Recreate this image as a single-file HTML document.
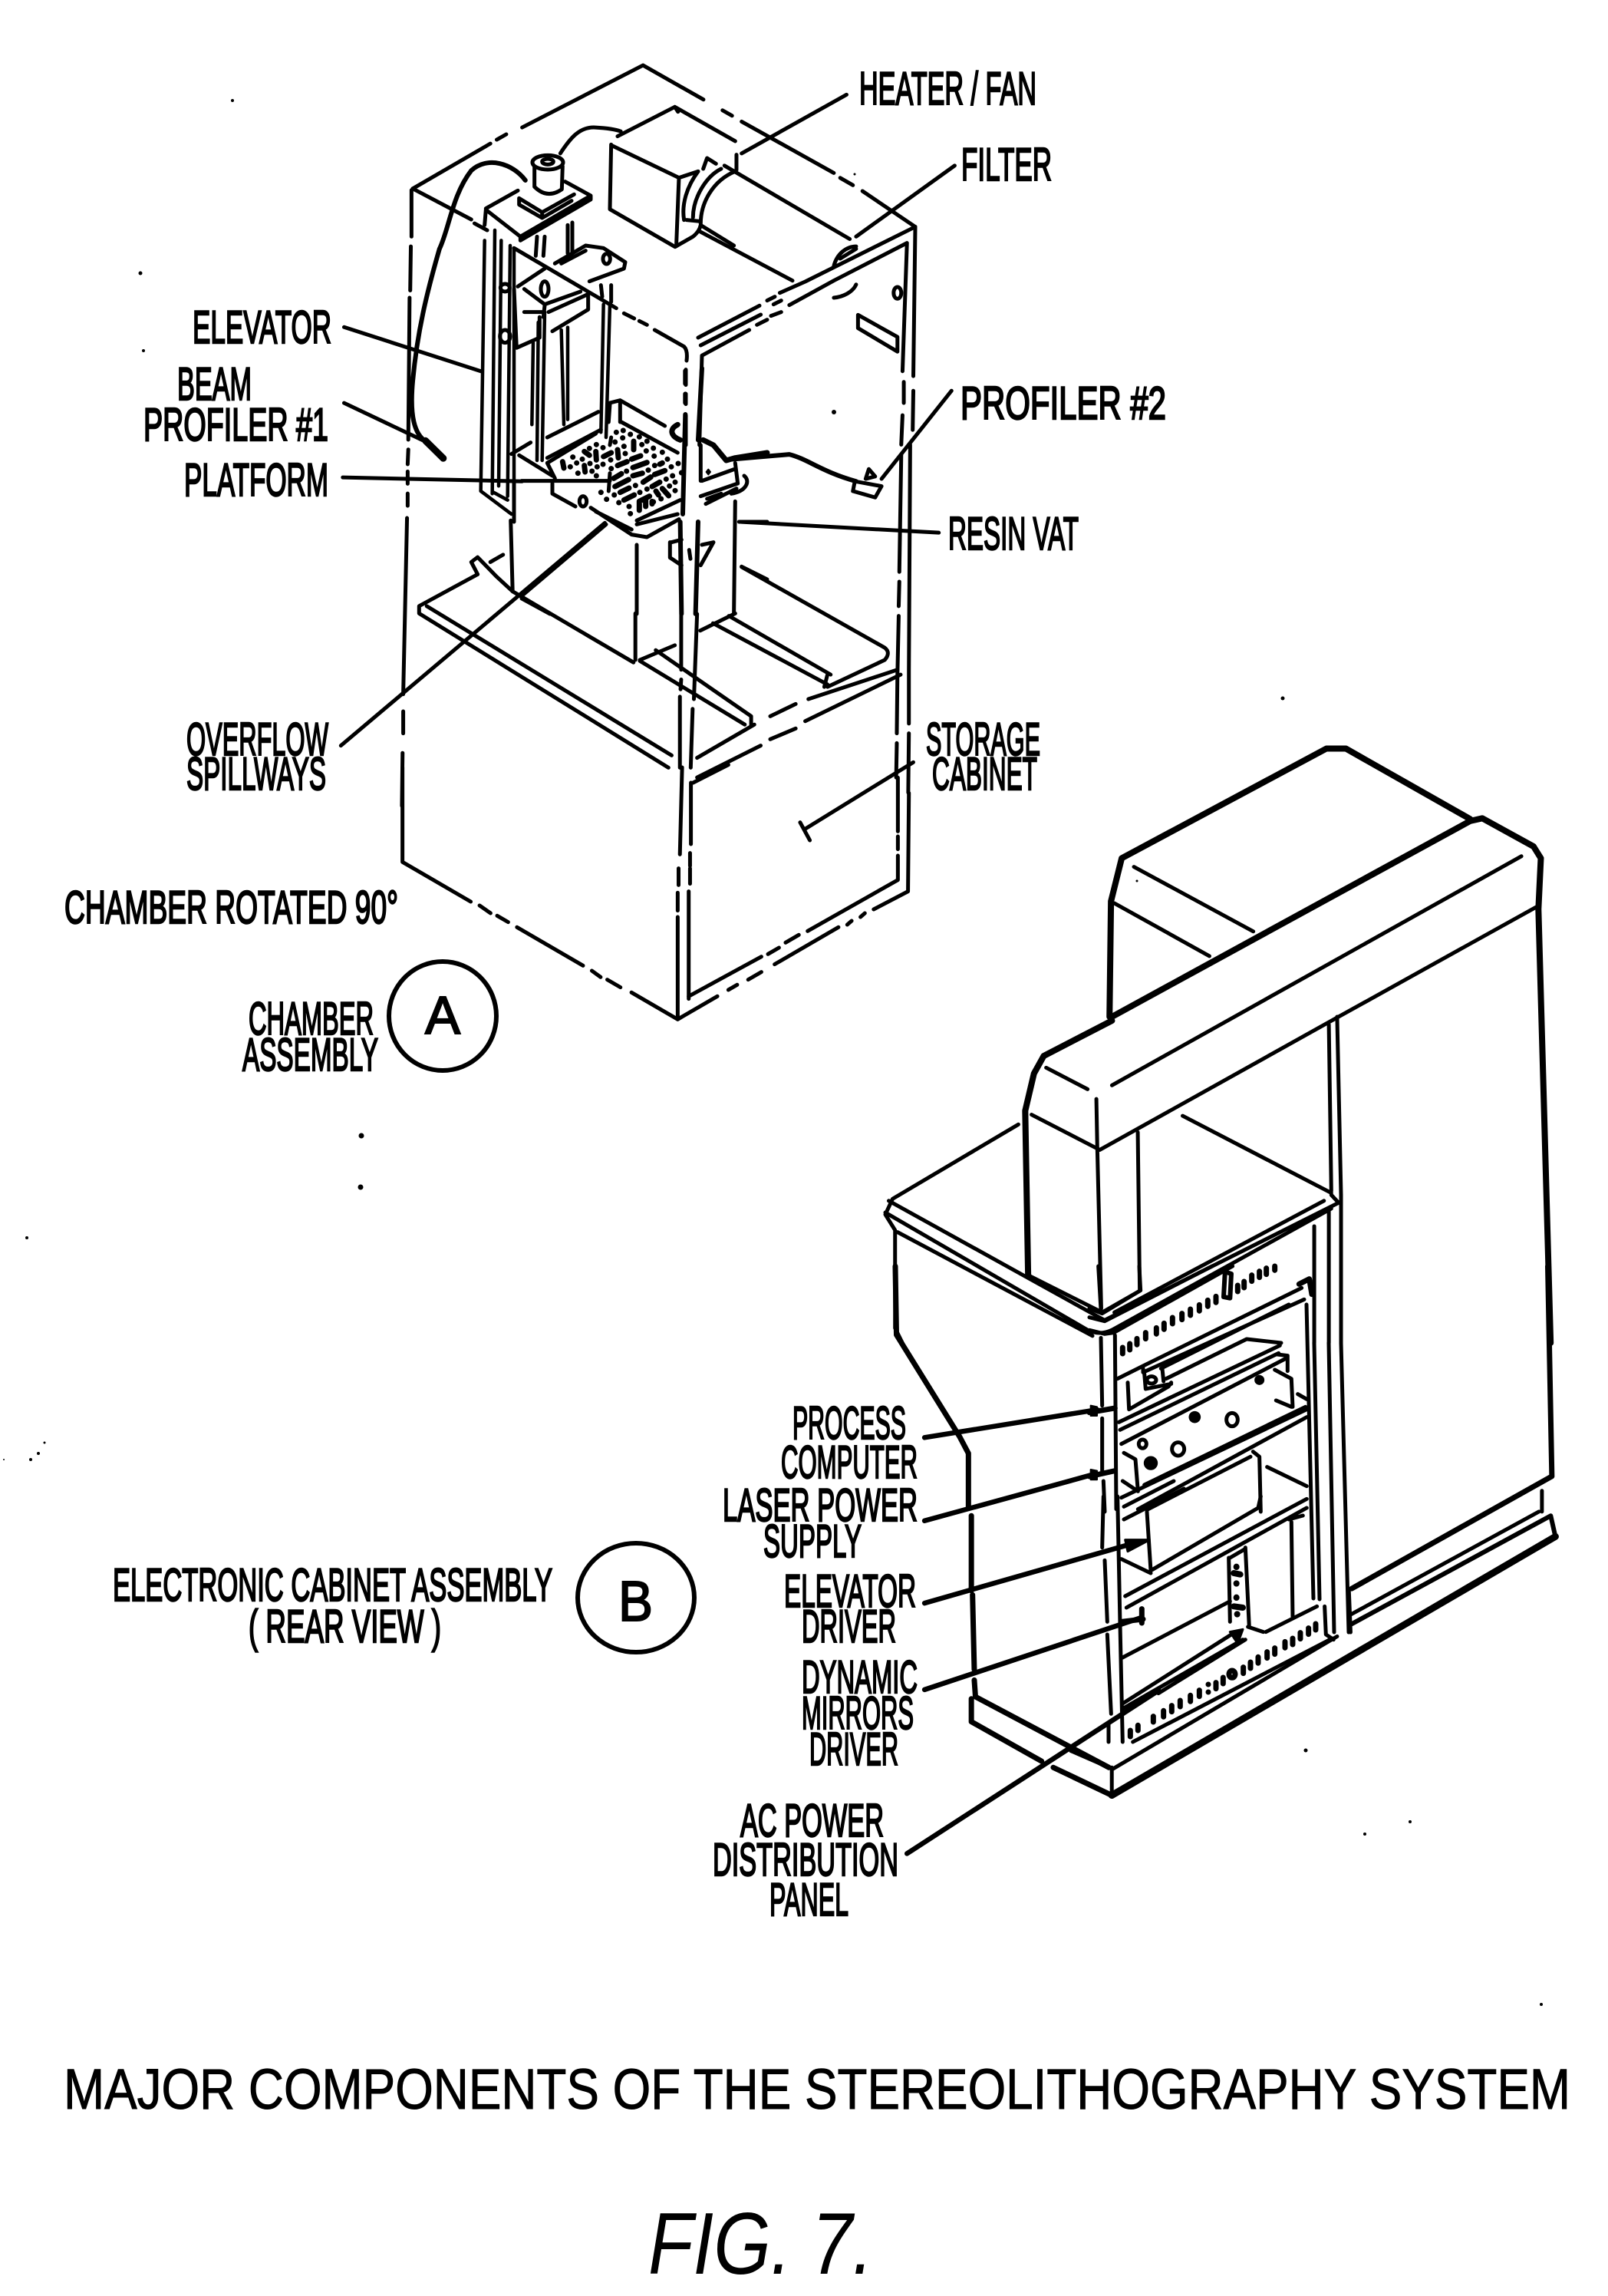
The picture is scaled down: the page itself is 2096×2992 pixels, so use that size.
<!DOCTYPE html>
<html><head><meta charset="utf-8"><title>Major components of the stereolithography system</title>
<style>
html,body{margin:0;padding:0;background:#fff}
svg{display:block}
path,ellipse,circle{vector-effect:non-scaling-stroke}
.d{fill:none;stroke:#000;stroke-width:5;stroke-linecap:round;stroke-linejoin:round}
.t{font-family:"Liberation Sans",sans-serif;font-size:60px;fill:#000;stroke:#000;stroke-width:2.4}
.f{fill:#000;stroke:#000}
</style></head><body>
<svg xmlns="http://www.w3.org/2000/svg" width="2096" height="2992" viewBox="0 0 2096 2992">
<rect width="2096" height="2992" fill="#fff"/>

<!-- Chamber: main frame -->
<g class="d" transform="translate(150,50) scale(.8291,.6378)">
<path d="M468 307L590 215M600 207L615 196M640 182L830 55L925 125M955 147L970 158M985 170L1130 275M1140 285L1160 300M1175 312L1258 385"/>
<path d="M466 310L466 405M465 425L464 515M463 530L461 820M461 840L460 870M460 885L460 910M460 930L460 955M459 980L453 1340M453 1375L453 1420M452 1460L451 1568"/>
<path d="M468 307L560 370M565 378L585 392"/>
<!-- top right double -->
<path d="M1045 520L1085 497L1258 385M1060 545L1130 495L1245 418M1245 418L1238 680M1240 702L1240 745M1238 770L1236 830M1236 850L1233 1090M1233 1110L1232 1160M1232 1180L1230 1300L1229 1420M1229 1440L1228 1510"/>
<path d="M1258 385L1255 690M1255 720L1254 800M1250 830L1248 1290L1248 1400M1248 1420L1247 1541"/>
<!-- heater -->
<path d="M880 140L975 210M790 200L880 140L885 150"/>
<path d="M958 260L1155 410M920 395L1065 495"/>
<path d="M1130 465C1135 440 1150 425 1165 425M1140 450L1165 430"/>
<!-- wires -->
<path stroke-width="6" d="M645 290C625 255 585 240 560 270C530 320 525 390 510 430C490 520 475 600 468 700C463 770 470 810 490 825L515 860"/>
<path stroke-width="9" d="M488 822L516 858"/>
<path d="M700 235C715 205 730 180 755 182C770 183 785 185 795 190"/>
<!-- leaders -->
<path d="M985 235L1150 115M1165 405L1320 260M360 590L575 680M360 745L490 825M1315 720L1205 900M985 988L1295 1010M355 1445L770 990M358 897L640 905"/>
<!-- wall details -->
<path d="M1168 565L1230 610L1230 640L1168 592ZM1130 530C1145 528 1160 518 1165 503"/>
<ellipse cx="1230" cy="520" rx="6" ry="12"/>
<!-- profiler 2 -->
<path stroke-width="6" d="M970 860L1060 850C1090 860 1110 885 1165 905"/>
<path stroke-width="5" d="M1163 905L1205 915L1195 938L1160 925ZM1185 880L1195 895L1180 900Z"/>
<!-- vat and shelf -->
<path d="M622 985L625 1130L815 1275M818 1175L818 1270M975 1175L920 1210M985 1080L1210 1245Q1220 1255 1210 1270L1120 1325"/>
<path d="M625 1130L600 1100L570 1060L560 1070L570 1095M610 1055L590 1070"/>
<path d="M570 1095L478 1160L478 1175L870 1490M490 1160L875 1465"/>
<path d="M940 1195L1120 1320M965 1180L1125 1300M1120 1300L1115 1325"/>
<path d="M880 1240L825 1270M850 1250L1000 1385M825 1272L990 1402M1000 1385L1000 1405"/>
<path d="M915 1470L1005 1402M1030 1385L1070 1360M1090 1350L1230 1290M915 1510L1015 1445M1030 1432L1070 1410M1085 1395L1235 1300"/>
<path d="M890 1176L890 1290M890 1310L889 1330M888 1345L888 1490M915 1176L910 1350M908 1370L905 1490"/>
</g>

<!-- Chamber: elevator, heater close-up -->
<g class="d" transform="translate(620,180) scale(.3333)">
<path d="M530 25L525 278L780 425L850 385Q875 365 880 340L1010 420M535 30L795 155L785 412M795 155L870 130"/>
<path d="M815 320C805 260 825 190 870 130M850 310C850 235 900 150 960 120M880 335C880 250 930 165 1015 130M825 320L875 325M890 120L905 78L940 100M1020 65L1020 125"/>
<ellipse cx="282" cy="95" rx="60" ry="28"/><ellipse cx="282" cy="92" rx="22" ry="11"/>
<path d="M230 110L230 190Q280 240 337 200L340 110"/>
<path d="M40 275L165 205M350 170L450 225L175 385L40 280L35 340M175 385L175 400L450 240L450 225M170 235L260 290L385 220M170 260L260 312L375 245M170 235L170 260M260 290L260 312"/>
<path stroke-width="4.5" d="M35 400L20 1380L140 1470M75 360L65 1390M100 400L90 1360M135 420L125 1400M150 430L150 1500M70 1385L125 1415"/>
<path d="M150 430L550 665M580 685L620 705M640 715L670 730M700 750L815 815Q830 830 825 870M822 905L822 965M822 1000L822 1040M822 1085L822 1200"/>
<path d="M885 850L875 1200M885 850L1070 750M870 780L1110 655M880 810L1115 690M1100 730L1140 710M1155 695L1195 680M1140 635L1170 620M1165 650L1195 635"/>
<path d="M310 490L430 420L500 430L585 485L580 510L445 560M335 490L430 440"/>
<ellipse cx="512" cy="472" rx="14" ry="20"/>
<path d="M490 575L495 620M530 575L530 640M360 340L360 450M378 330L378 450M240 385L235 460M270 385L265 460"/>
<path d="M190 590L270 650L410 600M285 680L440 610L440 670L300 755M270 655L265 700M150 590L160 820L250 780L250 700M190 680L265 680M165 580L270 510"/>
<ellipse cx="270" cy="590" rx="15" ry="30"/><ellipse cx="115" cy="585" rx="18" ry="15"/><ellipse cx="115" cy="775" rx="20" ry="25"/>
<path stroke-width="4.5" d="M225 800L220 1120M270 680L260 1260M245 720L240 1260M335 750L345 1120M360 740L360 1100M500 650L490 1150M525 650L510 1170"/>
<path d="M140 1235L215 1190"/>
<path d="M170 1240L300 1320M150 1345L150 1500"/>
</g>

<!-- Chamber: vat and platform close-up -->
<g class="d" transform="translate(680,480) scale(.3333)">
<path d="M100 270L300 170M100 350L310 240M345 135L385 125L560 225M345 140L340 210M385 130L385 210M390 210L610 330"/>
<path d="M0 440L345 440M345 410L340 480M100 370L130 430M120 450L120 490L210 540M100 370L290 255M350 270L345 300"/>
<path d="M270 545L430 650L490 660L615 590M290 560L430 630M450 610L610 570M450 595L620 515"/>
<path d="M330 610L0 890M850 600L960 600M450 690L450 960M835 520L830 960M860 775L960 825M0 900L110 960"/>
<path stroke-width="7" d="M710 280L750 300L800 360L835 350L960 330"/>
<path d="M700 300L700 440M835 370L845 450L700 500M705 440L830 395M870 420C895 440 880 480 820 490M720 530L840 470M725 510L780 490"/>
<path class="f" stroke-width="2" d="M730 395L738 405L730 415L722 405Z"/>
<path d="M580 680L580 740L625 770M625 670L585 680M705 690L750 680L700 770M655 710L660 745"/>
<path stroke-width="6" d="M705 0L690 280M640 10L640 60M640 100L640 135M640 180L630 570M620 600L625 960M690 600L680 960"/>
<path stroke-width="7" d="M610 220C570 240 590 270 620 280"/>
<ellipse cx="240" cy="520" rx="14" ry="20"/>
<g stroke-width="7">
<path d="M370 250h.1M397 243h.1M425 258h.1M395 272h.1M460 268h.1M490 285h.1M365 288h.1M292 298h.1M265 313h.1M318 310h.1M400 305h.1M470 298h.1M515 312h.1M550 328h.1M487 323h.1M405 333h.1M200 347h.1M237 355h.1M348 358h.1M518 343h.1M570 355h.1M215 370h.1M267 372h.1M295 385h.1M318 375h.1M520 380h.1M585 385h.1M612 372h.1M190 385h.1M350 392h.1M275 402h.1M410 402h.1M495 398h.1M590 420h.1M220 410h.1M292 420h.1M565 433h.1M600 445h.1M445 458h.1M490 472h.1M462 485h.1M578 460h.1M310 485h.1M362 495h.1M600 478h.1M332 512h.1M380 525h.1M515 522h.1M545 510h.1M420 540h.1M425 568h.1M625 408h.1"/>
<path d="M438 285L438 318M375 318L378 350M290 325L292 358M245 325L265 340M320 345L350 330M430 355L465 342M375 380L412 365M435 388L490 368M160 365L165 390M245 380L248 405M520 415L560 400M360 430L390 412M435 420L472 410M475 445L505 425M365 462L418 435M510 462L540 445M385 485L420 468M525 480L535 495M550 470L575 498M400 515L440 495M540 375L550 370M460 555L460 520L500 500M485 510L485 540M510 520L510 530"/>
</g>
</g>

<!-- Chamber: lower frame -->
<g class="d" transform="translate(450,1000) scale(.574,.3333)">
<path d="M130 0L130 370L285 525M305 540L330 570M345 580L370 605M390 625L540 775M560 795L580 820M595 830L625 860M650 880L755 985L845 895M870 870L890 850M915 830L945 800M975 770L1120 625M1140 615L1150 600M1170 585L1180 570M1200 555L1278 485L1280 100"/>
<path d="M1255 40L1255 250M1255 270L1255 320M1255 345L1255 440L1050 640M1000 685L1030 655M960 730L985 705M780 905L780 895L945 740"/>
<path d="M785 60L785 300M783 335L783 385M783 395L783 455M780 485L780 895M765 0L760 340M757 395L757 460M755 490L755 560M755 585L755 985"/>
<path d="M1290 -20L1045 240M1033 215L1055 285M790 60L870 -10"/>
</g>

<!-- Cabinet: upper -->
<g class="d" transform="translate(1100,950) scale(.6353,.5102)">
<g stroke-width="8">
<path d="M545 735L548 440L570 330L990 50L1030 50L1285 230"/>
<path d="M550 735L1285 235L1310 228L1415 300L1430 330L1425 460L1450 1568"/>
<path d="M550 745L410 835L390 880L372 975L378 1395"/>
</g>
<path d="M1390 325L550 910M1420 455L1015 735L525 1075L385 985M555 445L750 580M595 352L840 517"/>
<path d="M415 865L500 920M518 945L520 1075L528 1480M603 1030L607 1435L530 1490L378 1395M995 755L1000 1180M1012 735L1020 1190L1020 1568M695 988L1000 1185"/>
<path d="M358 1010L100 1200L85 1240L105 1280L105 1530L120 1568M92 1205L520 1500L535 1510L1015 1210L1000 1190M85 1235L500 1535Q525 1550 550 1535L1000 1225M110 1285L510 1550M985 1205L555 1490"/>
<path d="M995 1230L995 1568M1020 1230L1020 1568M965 1270L965 1568"/>
</g>

<!-- Cabinet: lower frame -->
<g class="d" transform="translate(900,1650) scale(.7628,.5421)">
<g stroke-width="7">
<path d="M350 0L352 165L460 410L475 450L475 580M480 600L480 780M482 790L485 970M485 995L487 1035L715 1205M480 1040L480 1095L600 1190M620 1205L720 1272"/>
<path d="M1465 0L1472 505L1130 775"/>
</g>
<path stroke-width="9" d="M720 1272L1478 650"/>
<path stroke-width="6" d="M1478 650L1470 600L1130 860"/>
<path d="M720 1210L1105 890M720 1205L720 1270M1125 840L1450 590M1455 540L1455 590M1125 775L1128 880"/>
<path d="M650 1165L715 1205"/>
<!-- leaders -->
<g stroke-width="6.5">
<path d="M400 412L695 345M400 612L690 500M400 810L760 665M400 1018L770 845M370 1412L800 1020"/>
</g>
</g>

<!-- Cabinet: rack columns -->
<g class="d">
<path d="M1713 1750L1720 2084M1732 1750L1739 2127M1748 1750L1758 2127M1703 1700L1712 2083"/>
</g>

<!-- Cabinet: rack close-up top -->
<g class="d" transform="translate(1420,1650) scale(.3333)">
<path d="M0 165L50 185L200 95L195 0M35 0L45 170M0 200L60 215L480 0M0 250L60 265L95 260L560 0"/>
<path d="M100 270L105 950M45 280L50 545M50 595L50 800M55 840L60 960"/>
<path stroke-width="7" d="M0 572L100 555M0 822L100 800"/>
<path class="f" stroke-width="2" d="M5 545L30 550L30 585L5 585ZM5 795L30 800L30 835L5 835Z"/>
<path d="M110 440L210 390L830 85M210 400L210 415L840 130M280 400L780 150M285 400L290 450M300 440L615 285L750 300M150 455L155 560L310 470L320 455M215 420L220 480L320 460"/>
<ellipse cx="243" cy="445" rx="18" ry="14"/>
<path d="M115 610L745 310M120 640L740 340M125 695L770 360M215 855L845 550M125 905L850 560M190 950L850 590M230 950L630 745M640 725L665 745L670 960M695 785L850 860"/>
<path d="M735 345L775 350L775 410M725 405L790 440L795 550M730 525L790 550M135 730L180 755L190 880M130 840L190 880M815 500L850 520"/>
<path stroke-width="6" d="M530 30L525 120L550 125L555 30L540 25"/>
<circle class="f" cx="665" cy="445" r="12"/><circle class="f" cx="412" cy="590" r="16"/><circle class="f" cx="240" cy="770" r="20"/>
<ellipse cx="558" cy="600" rx="22" ry="26"/><ellipse cx="347" cy="715" rx="24" ry="26"/><ellipse cx="208" cy="695" rx="15" ry="17"/>
<g stroke-width="7">
<path d="M130 318v24M158 303v24M186 283v24M220 260v24M262 241v24M292 223v24M325 201v24M362 185v24M395 168v24M430 151v24M463 133v24M495 118v24M580 75v24M605 60v24M635 35v24M665 20v24M692 8v24M725 0v16"/>
<path d="M820 70L860 50L870 110"/>
</g>
</g>

<!-- Cabinet: rack close-up lower -->
<g class="d" transform="translate(1420,1950) scale(.3333)">
<path d="M110 0L120 500L130 960M55 0L50 200M60 250L70 490M70 540L85 850M135 40L330 -60M135 90L370 -30M225 60L240 290L660 45L670 0M240 300L125 245"/>
<path class="f" stroke-width="3" d="M140 170L235 170L150 215Z"/>
<path d="M140 390L850 10M145 435L850 45M780 90L835 75M790 100L795 470"/>
<path stroke-width="7" d="M125 490L210 480M205 440L205 495"/>
<path d="M130 630L550 410M545 240L550 490M610 200L625 510M550 240L610 205M620 510L680 530"/>
<g stroke-width="8"><path d="M575 275v1M575 340v1M575 395v1M578 460v1M565 300L590 305M565 430L600 435"/></g>
<path d="M130 810L555 540M160 830L270 750M270 770L610 560M690 530L890 430M130 830L600 560M170 960L950 555M920 430L925 540L955 560"/>
<path class="f" stroke-width="3" d="M550 530L600 520L580 575Z"/>
<g stroke-width="7">
<path d="M160 915v24M190 895v20M250 860v22M290 838v24M322 818v24M355 798v24M395 778v24M430 758v24M465 735h.1M465 765h.1M495 728v24M523 708v24M602 668v24M630 648v24M660 628v24M695 608v24M725 593v24M765 568v24M795 555v24M825 533v24M857 515v24M885 498v24"/>
<ellipse cx="558" cy="695" rx="12" ry="14"/>
</g>
<path d="M75 890L75 960"/>
</g>

<!-- Circles -->
<g class="d">
<ellipse cx="577" cy="1324" rx="70" ry="71" stroke-width="6"/>
<ellipse cx="829" cy="2082" rx="76" ry="71" stroke-width="6"/>
</g>

<!-- Specks -->
<g fill="#000">
<circle cx="471" cy="1480" r="3.5"/><circle cx="470" cy="1547" r="3.5"/><circle cx="35" cy="1613" r="2"/><circle cx="58" cy="1880" r="1.5"/><circle cx="50" cy="1894" r="2"/><circle cx="40" cy="1902" r="2"/><circle cx="5" cy="1902" r="1"/>
<circle cx="303" cy="131" r="2"/><circle cx="183" cy="356" r="2.5"/><circle cx="187" cy="457" r="2"/><circle cx="1087" cy="537" r="3"/><circle cx="1672" cy="910" r="2.5"/><circle cx="2009" cy="2612" r="2"/><circle cx="1702" cy="2281" r="2.5"/><circle cx="1838" cy="2374" r="2"/><circle cx="1779" cy="2390" r="2"/><circle cx="1482" cy="1148" r="1.5"/><circle cx="1114" cy="227" r="1.5"/>
</g>

<!-- Labels -->
<g class="t">
<text x="1120" y="136" textLength="231" lengthAdjust="spacingAndGlyphs">HEATER / FAN</text>
<text x="1253" y="235" textLength="118" lengthAdjust="spacingAndGlyphs">FILTER</text>
<text x="251" y="447" textLength="181" lengthAdjust="spacingAndGlyphs">ELEVATOR</text>
<text x="231" y="521" textLength="97" lengthAdjust="spacingAndGlyphs">BEAM</text>
<text x="187" y="574" textLength="241" lengthAdjust="spacingAndGlyphs">PROFILER #1</text>
<text x="240" y="646" textLength="188" lengthAdjust="spacingAndGlyphs">PLATFORM</text>
<text x="1252" y="546" textLength="268" lengthAdjust="spacingAndGlyphs">PROFILER #2</text>
<text x="1236" y="716" textLength="170" lengthAdjust="spacingAndGlyphs">RESIN VAT</text>
<text x="243" y="984" textLength="185" lengthAdjust="spacingAndGlyphs">OVERFLOW</text>
<text x="243" y="1029" textLength="182" lengthAdjust="spacingAndGlyphs">SPILLWAYS</text>
<text x="1207" y="984" textLength="149" lengthAdjust="spacingAndGlyphs">STORAGE</text>
<text x="1215" y="1029" textLength="137" lengthAdjust="spacingAndGlyphs">CABINET</text>
<text x="84" y="1203" textLength="435" lengthAdjust="spacingAndGlyphs">CHAMBER ROTATED 90°</text>
<text x="324" y="1348" textLength="163" lengthAdjust="spacingAndGlyphs">CHAMBER</text>
<text x="316" y="1395" textLength="177" lengthAdjust="spacingAndGlyphs">ASSEMBLY</text>
<text x="147" y="2086" textLength="573" lengthAdjust="spacingAndGlyphs">ELECTRONIC CABINET ASSEMBLY</text>
<text x="324" y="2140" textLength="251" lengthAdjust="spacingAndGlyphs">( REAR VIEW )</text>
<text x="1033" y="1875" textLength="148" lengthAdjust="spacingAndGlyphs">PROCESS</text>
<text x="1018" y="1926" textLength="178" lengthAdjust="spacingAndGlyphs">COMPUTER</text>
<text x="942" y="1982" textLength="254" lengthAdjust="spacingAndGlyphs">LASER POWER</text>
<text x="995" y="2029" textLength="128" lengthAdjust="spacingAndGlyphs">SUPPLY</text>
<text x="1022" y="2094" textLength="172" lengthAdjust="spacingAndGlyphs">ELEVATOR</text>
<text x="1045" y="2140" textLength="123" lengthAdjust="spacingAndGlyphs">DRIVER</text>
<text x="1045" y="2206" textLength="151" lengthAdjust="spacingAndGlyphs">DYNAMIC</text>
<text x="1045" y="2253" textLength="146" lengthAdjust="spacingAndGlyphs">MIRRORS</text>
<text x="1055" y="2300" textLength="116" lengthAdjust="spacingAndGlyphs">DRIVER</text>
<text x="965" y="2393" textLength="187" lengthAdjust="spacingAndGlyphs">AC POWER</text>
<text x="929" y="2444" textLength="242" lengthAdjust="spacingAndGlyphs">DISTRIBUTION</text>
<text x="1003" y="2496" textLength="103" lengthAdjust="spacingAndGlyphs">PANEL</text>
</g>
<text x="554" y="1347" font-family="Liberation Sans, sans-serif" font-size="70" textLength="46" lengthAdjust="spacingAndGlyphs" stroke="#000" stroke-width="2">A</text>
<text x="806" y="2112" font-family="Liberation Sans, sans-serif" font-size="74" textLength="45" lengthAdjust="spacingAndGlyphs" stroke="#000" stroke-width="2">B</text>
<text x="83" y="2748" font-family="Liberation Sans, sans-serif" font-size="74" textLength="1964" lengthAdjust="spacingAndGlyphs" stroke="#000" stroke-width="1">MAJOR COMPONENTS OF THE STEREOLITHOGRAPHY SYSTEM</text>
<text x="845" y="2963" font-family="Liberation Sans, sans-serif" font-style="italic" font-size="114" textLength="293" lengthAdjust="spacingAndGlyphs">FIG. 7.</text>
</svg>
</body></html>
